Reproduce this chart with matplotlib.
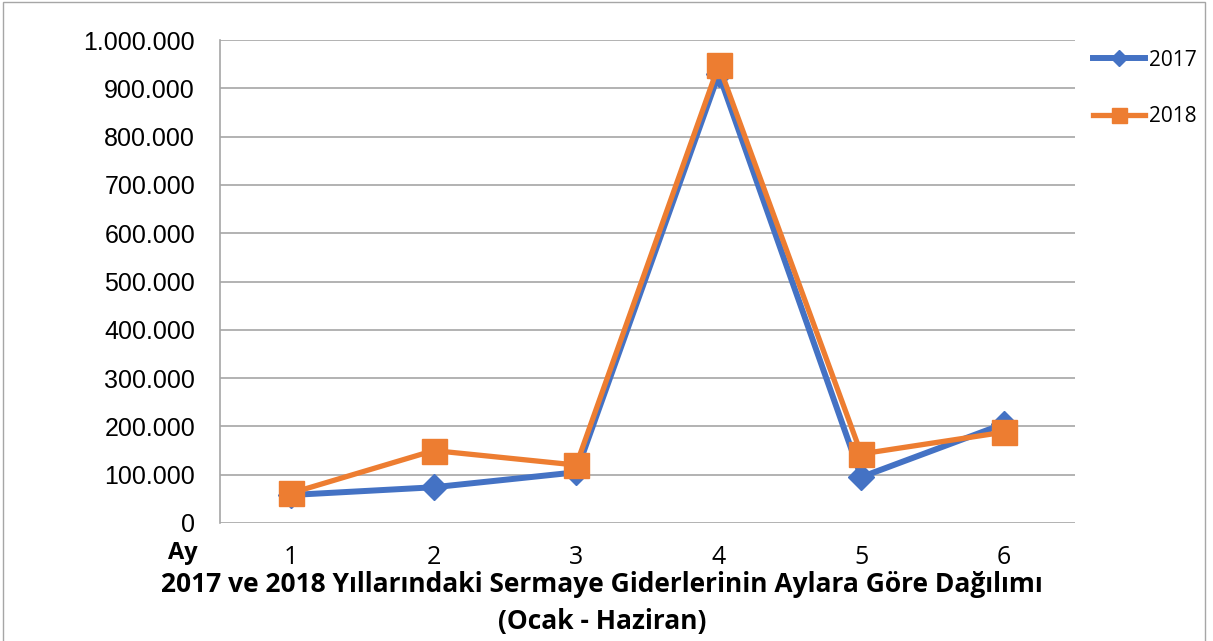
import matplotlib
matplotlib.use("Agg")
import matplotlib.pyplot as plt
from matplotlib.ticker import FuncFormatter
from matplotlib.patches import Rectangle

months = [1, 2, 3, 4, 5, 6]
month_labels = ["1", "2", "3", "4", "5", "6"]
values_2017 = [58000, 74000, 105000, 930000, 95000, 205000]
values_2018 = [62000, 150000, 120000, 948000, 143000, 188000]
series_names = ["2017", "2018"]
y_ticks = [0, 100000, 200000, 300000, 400000, 500000, 600000, 700000, 800000, 900000, 1000000]
title_line1 = "2017 ve 2018 Yıllarındaki Sermaye Giderlerinin Aylara Göre Dağılımı"
title_line2 = "(Ocak - Haziran)"

BLUE = "#4472C4"
ORANGE = "#ED7D31"

fig = plt.figure(figsize=(12.13, 6.41), dpi=100)
W, H = 1213, 641
ax = fig.add_axes([220 / W, 1 - 523 / H, (1075 - 220) / W, (523 - 40) / H])

ax.plot(months, values_2017, color=BLUE, lw=4.3, marker="D", markersize=13,
        label=series_names[0], zorder=3)
ax.plot(months, values_2018, color=ORANGE, lw=3.8, marker="s", markersize=18,
        label=series_names[1], zorder=4)

ax.set_xlim(0.5, 6.5)
ax.set_ylim(0, 1000000)
ax.set_yticks(y_ticks)
ax.yaxis.set_major_formatter(FuncFormatter(lambda v, p: f"{int(v):,}".replace(",", ".")))
ax.set_xticks(months)
ax.set_xticklabels(month_labels)
ax.grid(axis="y", color="#A6A6A6", lw=1.2)
ax.set_axisbelow(True)
for s in ["top", "right", "bottom"]:
    ax.spines[s].set_visible(False)
ax.spines["left"].set_color("#A6A6A6")
ax.spines["left"].set_linewidth(1.2)
ax.tick_params(axis="y", length=0, labelsize=18, pad=18)
ax.tick_params(axis="x", length=0, labelsize=18, pad=16)
for lbl in ax.get_yticklabels():
    lbl.set_fontfamily("Liberation Sans")
for lbl in ax.get_xticklabels():
    lbl.set_fontfamily("Open Sans")

fig.text(183 / W, 1 - 553 / H, "Ay", fontsize=17, fontweight="bold",
         fontfamily="Open Sans", ha="center", va="center")
fig.text(602 / W, 1 - 585 / H, title_line1, fontsize=19, fontweight="bold",
         fontfamily="Open Sans", ha="center", va="center")
fig.text(602 / W, 1 - 621 / H, title_line2, fontsize=19, fontweight="bold",
         fontfamily="Open Sans", ha="center", va="center")

leg = fig.legend(loc="upper left", bbox_to_anchor=(1074 / W, 1 - 31 / H), frameon=False,
                 handlelength=2.5, labelspacing=1.7, handletextpad=0.2, markerscale=0.6,
                 prop={"family": "Open Sans", "size": 15})

fig.patches.append(Rectangle((3 / W, -0.01), (1205 - 3) / W, 1 - 2 / H + 0.01,
                             transform=fig.transFigure, fill=False, edgecolor="#A6A6A6", lw=1))

fig.savefig("out.png", dpi=100)
